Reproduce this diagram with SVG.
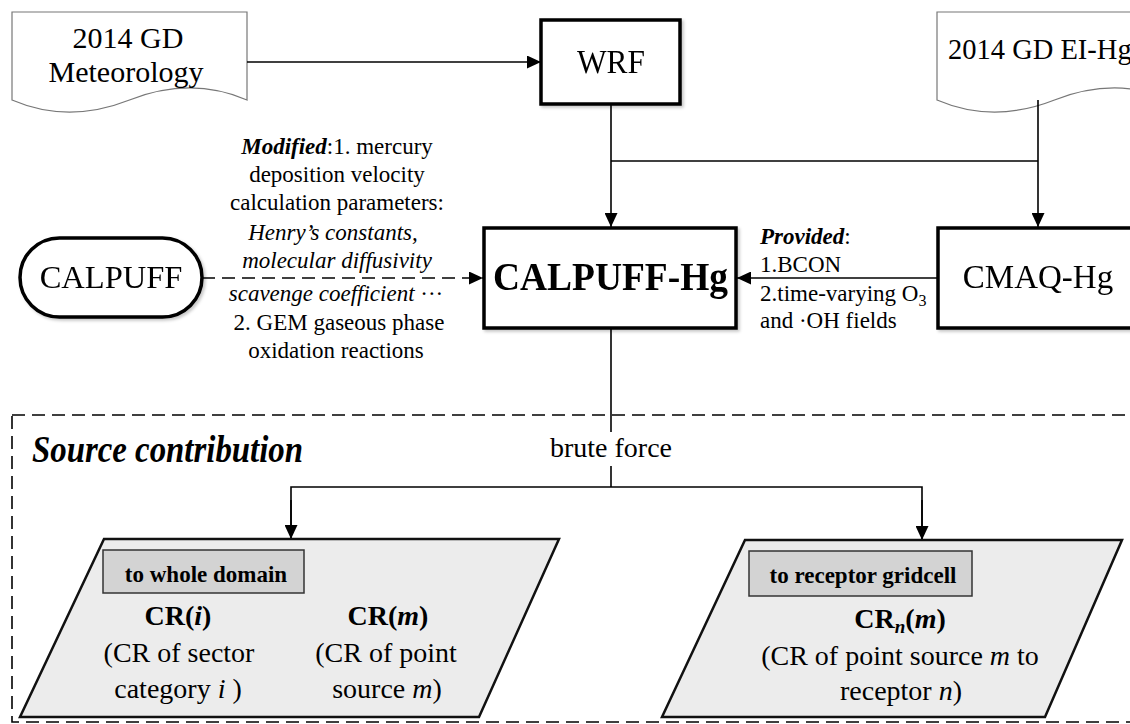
<svg xmlns="http://www.w3.org/2000/svg" width="1130" height="724" viewBox="0 0 1130 724">
<defs>
<marker id="arr" viewBox="0 0 14 13" refX="14" refY="6.5" markerWidth="14" markerHeight="13" markerUnits="userSpaceOnUse" orient="auto"><path d="M0,0 L14,6.5 L0,13 z" fill="#000"/></marker>
<filter id="sh" x="-10%" y="-10%" width="130%" height="140%"><feDropShadow dx="2" dy="2" stdDeviation="1.5" flood-color="#000" flood-opacity="0.22"/></filter>
<path id="docshape" d="M12,12 H247 V100 C205,82 165,86 129.5,100 C94,114 54,118 12,100 Z"/>
</defs>
<style>
text{font-family:"Liberation Serif","Times New Roman",serif;fill:#000}
.thick{fill:#fff;stroke:#000;stroke-width:3.5}
.doc{fill:#fff;stroke:#777;stroke-width:1.2}
.conn{fill:none;stroke:#000;stroke-width:1.6}
.dash{stroke-dasharray:13 7}
.para{fill:#ececec;stroke:#111;stroke-width:2.5}
.tag{fill:#d3d3d3;stroke:#333;stroke-width:1.5}
.ann{font-size:23px}
.bot{font-size:28px}
.bi{font-weight:bold;font-style:italic}
.it{font-style:italic}
.b{font-weight:bold}
</style>

<g id="source-box">
<rect x="12" y="415" width="1130" height="307" fill="none" stroke="#000" stroke-width="1.6" class="dash"/>
<text x="32" y="462" font-size="38" class="bi" textLength="271" lengthAdjust="spacingAndGlyphs">Source contribution</text>
</g>

<g id="doc-meteorology">
<use href="#docshape" class="doc"/>
<text x="128" y="48" font-size="30" text-anchor="middle">2014 GD</text>
<text x="126" y="82" font-size="30" text-anchor="middle">Meteorology</text>
</g>

<g id="doc-eihg">
<use href="#docshape" class="doc" transform="translate(925,0)"/>
<text x="948" y="59" font-size="28.5">2014 GD EI-Hg</text>
</g>

<g id="wrf" filter="url(#sh)">
<rect x="541" y="20" width="139" height="84" class="thick"/>
<text x="611" y="73" font-size="34" text-anchor="middle" textLength="68" lengthAdjust="spacingAndGlyphs">WRF</text>
</g>

<g id="calpuff" filter="url(#sh)">
<rect x="20" y="238" width="182" height="79" rx="39.5" class="thick" stroke-width="3"/>
<text x="111" y="288" font-size="32.5" text-anchor="middle">CALPUFF</text>
</g>

<g id="calpuff-hg" filter="url(#sh)">
<rect x="484" y="228" width="252" height="100" class="thick"/>
<text x="610.5" y="290" font-size="41" font-weight="bold" text-anchor="middle" textLength="235" lengthAdjust="spacingAndGlyphs">CALPUFF-Hg</text>
</g>

<g id="cmaq-hg" filter="url(#sh)">
<rect x="938" y="228" width="250" height="100" class="thick"/>
<text x="1038" y="288" font-size="33" text-anchor="middle">CMAQ-Hg</text>
</g>

<g id="modified-note" class="ann">
<text x="337" y="154" text-anchor="middle"><tspan class="bi">Modified</tspan>:1. mercury</text>
<text x="337" y="182" text-anchor="middle">deposition velocity</text>
<text x="337" y="210" text-anchor="middle">calculation parameters:</text>
<text x="333" y="240" text-anchor="middle" class="it">Henry’s constants,</text>
<text x="337" y="268" text-anchor="middle" class="it">molecular diffusivity</text>
<text x="336" y="301" text-anchor="middle"><tspan class="it">scavenge coefficient</tspan> ···</text>
<text x="339" y="330" text-anchor="middle">2. GEM gaseous phase</text>
<text x="336" y="358" text-anchor="middle">oxidation reactions</text>
</g>

<g id="provided-note" class="ann">
<text x="760" y="244"><tspan class="bi">Provided</tspan>:</text>
<text x="760" y="272">1.BCON</text>
<text x="760" y="301">2.time-varying O<tspan font-size="16" dy="5">3</tspan></text>
<text x="760" y="328">and ·OH fields</text>
</g>

<g id="connectors">
<line x1="247" y1="62" x2="541" y2="62" class="conn" marker-end="url(#arr)"/>
<line x1="611" y1="104" x2="611" y2="227" class="conn" marker-end="url(#arr)"/>
<line x1="611" y1="161" x2="1038" y2="161" class="conn"/>
<line x1="1038" y1="100" x2="1038" y2="227" class="conn" marker-end="url(#arr)"/>
<line x1="938" y1="278" x2="737" y2="278" class="conn" marker-end="url(#arr)"/>
<line x1="202" y1="278" x2="483" y2="278" class="conn dash" marker-end="url(#arr)"/>
<line x1="611" y1="328" x2="611" y2="432" class="conn"/>
<line x1="611" y1="466" x2="611" y2="487" class="conn"/>
<polyline points="291,539 291,487 922,487 922,540" class="conn"/>
<line x1="291" y1="500" x2="291" y2="539" class="conn" marker-end="url(#arr)"/>
<line x1="922" y1="500" x2="922" y2="540" class="conn" marker-end="url(#arr)"/>
<text x="611" y="457" font-size="28" text-anchor="middle">brute force</text>
</g>

<g id="whole-domain">
<polygon points="104,539 559,539 479,717 20,717" class="para"/>
<rect x="103" y="550" width="201" height="43" class="tag"/>
<text x="206" y="582" font-size="23" class="b" text-anchor="middle">to whole domain</text>
<text x="178" y="625" class="bot b" text-anchor="middle">CR(<tspan class="it">i</tspan>)</text>
<text x="179" y="662" class="bot" text-anchor="middle">(CR of sector</text>
<text x="178" y="698" class="bot" text-anchor="middle">category <tspan class="it">i</tspan> )</text>
<text x="388" y="625" class="bot b" text-anchor="middle">CR(<tspan class="it">m</tspan>)</text>
<text x="386" y="662" class="bot" text-anchor="middle">(CR of point</text>
<text x="387" y="698" class="bot" text-anchor="middle">source <tspan class="it">m</tspan>)</text>
</g>

<g id="receptor-gridcell">
<polygon points="745,540 1122,540 1045,717 662,717" class="para"/>
<rect x="749" y="551" width="223" height="45" class="tag"/>
<text x="863" y="583" font-size="23" class="b" text-anchor="middle">to receptor gridcell</text>
<text x="900" y="628" class="bot b" text-anchor="middle">CR<tspan class="it" font-size="19" dy="5">n</tspan><tspan dy="-5">(</tspan><tspan class="it">m</tspan>)</text>
<text x="900" y="665" class="bot" text-anchor="middle">(CR of point source <tspan class="it">m</tspan> to</text>
<text x="901" y="700" class="bot" text-anchor="middle">receptor <tspan class="it">n</tspan>)</text>
</g>
</svg>
